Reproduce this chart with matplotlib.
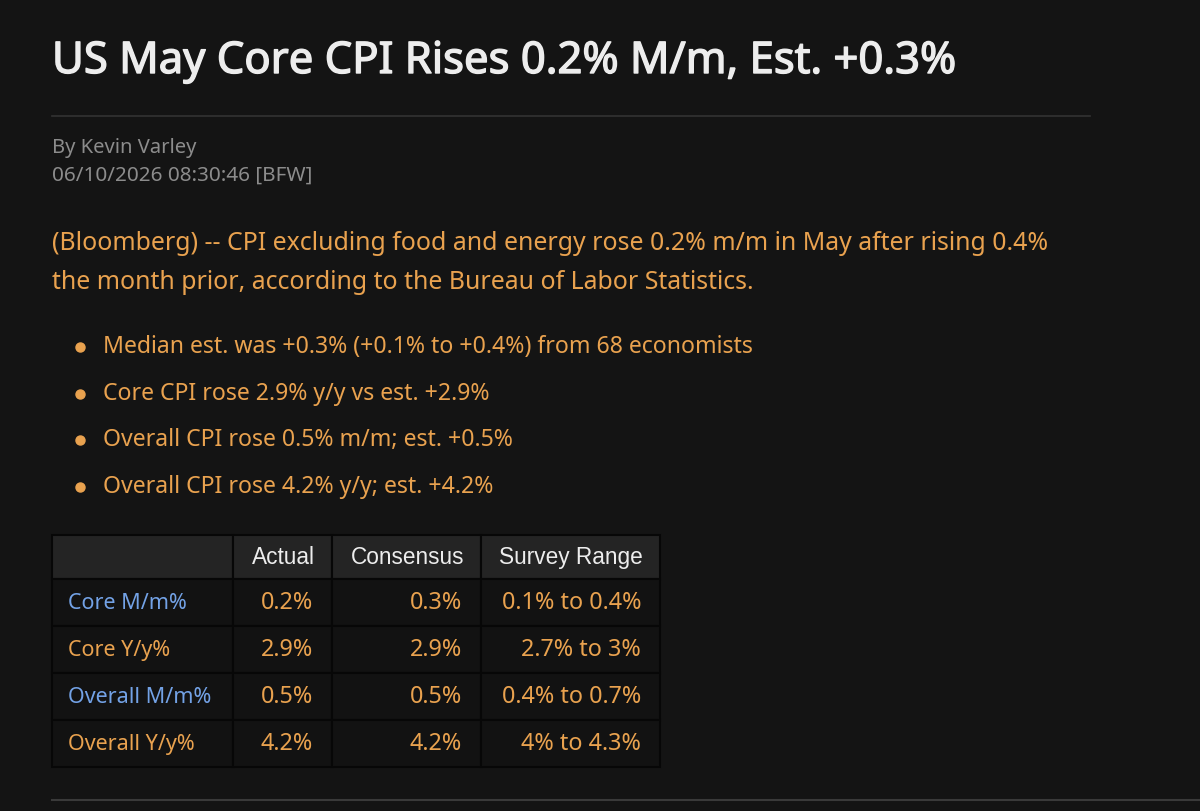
import matplotlib
matplotlib.use("Agg")
import matplotlib.pyplot as plt
import matplotlib.patheffects as pe
from matplotlib.patches import Rectangle

title = "US May Core CPI Rises 0.2% M/m, Est. +0.3%"
byline = "By Kevin Varley"
timestamp = "06/10/2026 08:30:46 [BFW]"
paragraph = ["(Bloomberg) -- CPI excluding food and energy rose 0.2% m/m in May after rising 0.4%",
             "the month prior, according to the Bureau of Labor Statistics."]
bullets = ["Median est. was +0.3% (+0.1% to +0.4%) from 68 economists",
           "Core CPI rose 2.9% y/y vs est. +2.9%",
           "Overall CPI rose 0.5% m/m; est. +0.5%",
           "Overall CPI rose 4.2% y/y; est. +4.2%"]
col_headers = ["", "Actual", "Consensus", "Survey Range"]
row_labels = ["Core M/m%", "Core Y/y%", "Overall M/m%", "Overall Y/y%"]
row_label_link = [True, False, True, False]
actual = ["0.2%", "2.9%", "0.5%", "4.2%"]
consensus = ["0.3%", "2.9%", "0.5%", "4.2%"]
survey_range = ["0.1% to 0.4%", "2.7% to 3%", "0.4% to 0.7%", "4% to 4.3%"]

BG = "#141414"
ORANGE = "#E9A24F"
BLUE = "#73A2E6"
GRAY = "#8C8C8C"
WHITE = "#EDEDED"
BODY = ["Noto Sans", "DejaVu Sans"]
HEAD = ["Liberation Sans", "DejaVu Sans"]

fig = plt.figure(figsize=(12, 8.12), dpi=100)
fig.patch.set_facecolor(BG)
ax = fig.add_axes([0, 0, 1, 1])
ax.set_xlim(0, 1200)
ax.set_ylim(812, 0)
ax.axis("off")
ax.set_facecolor(BG)

ax.text(52, 63, title, color=WHITE, fontsize=31.4, family=BODY, va="center", ha="left",
        path_effects=[pe.withStroke(linewidth=1.0, foreground=WHITE)])
ax.plot([52, 1090], [117, 117], color="#333333", lw=1.2)
ax.text(52, 148, byline, color=GRAY, fontsize=14.5, family=BODY, va="center")
ax.text(52, 176, timestamp, color=GRAY, fontsize=14.9, family=BODY, va="center")

for i, line in enumerate(paragraph):
    ax.text(52, 244 + i * 39, line, color=ORANGE, fontsize=17.9, family=BODY, va="center")

for i, b in enumerate(bullets):
    y = 347 + i * 46.7
    ax.plot([80], [y + 1], marker="o", ms=6.5, color=ORANGE, mec=ORANGE)
    ax.text(103, y, b, color=ORANGE, fontsize=16.6, family=BODY, va="center")

# table
col_edges = [52, 233, 332, 481, 660]
row_edges = [536, 580, 627, 674, 721, 768]
cells = [col_headers] + [[row_labels[i], actual[i], consensus[i], survey_range[i]] for i in range(4)]
for r in range(5):
    for c in range(4):
        x0, x1 = col_edges[c], col_edges[c + 1]
        y0, y1 = row_edges[r], row_edges[r + 1]
        fc = "#242424" if r == 0 else "#121212"
        ax.add_patch(Rectangle((x0, y0), x1 - x0, y1 - y0, facecolor=fc,
                               edgecolor="#070707", lw=1.5))
        txt = cells[r][c]
        if not txt:
            continue
        yc = (y0 + y1) / 2
        if r == 0:
            ax.text(x1 - 17, yc, txt, color=WHITE, fontsize=16.3, family=HEAD, ha="right", va="center")
        elif c == 0:
            col = BLUE if row_label_link[r - 1] else ORANGE
            ax.text(x0 + 16, yc, txt, color=col, fontsize=15.5, family=BODY, ha="left", va="center")
        else:
            ax.text(x1 - 19, yc, txt, color=ORANGE, fontsize=16.8, family=BODY, ha="right", va="center")

ax.plot([52, 1200], [801, 801], color="#3a3a3a", lw=1.5)

fig.savefig("out.png", dpi=100, facecolor=BG)
